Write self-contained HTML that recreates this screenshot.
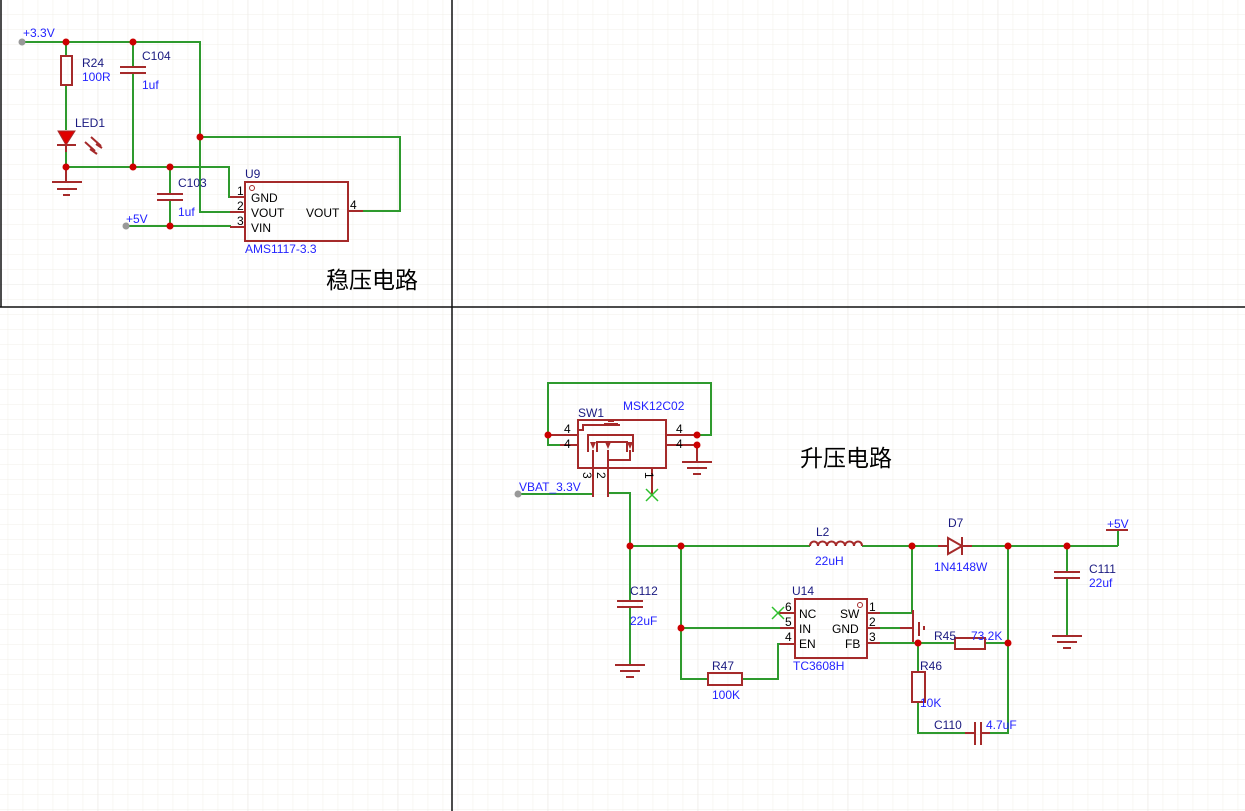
<!DOCTYPE html>
<html><head><meta charset="utf-8"><style>
html,body{margin:0;padding:0;background:#fff}
svg{display:block}
text{font-family:"Liberation Sans","Noto Sans CJK SC",sans-serif;font-size:12px}
.w{stroke:#2e9a2e;stroke-width:2;fill:none}
.c{stroke:#a52a2a;stroke-width:2;fill:none}
.d{fill:#cc0000}
.n{fill:#1a1a80}
.v{fill:#2323ff}
.p{fill:#000}
</style></head><body>
<svg width="1245" height="811" viewBox="0 0 1245 811" xmlns="http://www.w3.org/2000/svg">
<defs>
<pattern id="g" width="15" height="15" patternUnits="userSpaceOnUse" x="7.7" y="14">
<path d="M0 0V15M0 0H15" stroke="#f1efe8" stroke-width="1" fill="none"/>
</pattern>
<pattern id="G" width="150" height="150" patternUnits="userSpaceOnUse" x="97.7" y="134">
<path d="M0 0V150M0 0H150" stroke="#e9e8e4" stroke-width="1" fill="none"/>
</pattern>
</defs>
<rect width="1245" height="811" fill="url(#g)"/>
<rect width="1245" height="811" fill="url(#G)"/>
<!-- frames -->
<g stroke="#111" stroke-width="1.5" fill="none">
<line x1="1" y1="0" x2="1" y2="307"/>
<line x1="0" y1="307" x2="1245" y2="307"/>
<line x1="452" y1="0" x2="452" y2="811"/>
</g>

<!-- ===== Top-left regulator ===== -->
<g class="w">
<path d="M22 42H200V212H231"/>
<path d="M66 42V56"/><path d="M66 85V130"/>
<path d="M133 42V67"/><path d="M133 73V167"/>
<path d="M66 145V167H229V197H231"/>
<path d="M170 167V194"/><path d="M170 200V226"/>
<path d="M126 226H231"/>
<path d="M200 137H400V211H363"/>
</g>
<g class="c">
<rect x="61" y="56" width="11" height="29"/>
<path d="M66 145V152"/>
<path d="M120 67H146M120 73H146"/>
<path d="M157 194H183M157 200H183"/>
<path d="M52 182H82M57 189H77M63 195H70"/>
<path d="M66 167V182"/>
<rect x="245" y="182" width="103" height="59"/>
<path d="M230 197H245M230 212H245M230 227H245M348 211H363"/>
<path d="M85 142L95 151M90 149L97 154"/>
<path d="M91 137L101 146M96 144L102 148"/>
</g>
<polygon points="58,131 75,131 66,145" fill="#e00000" stroke="#a52a2a"/>
<path d="M57 145H76" stroke="#a52a2a" stroke-width="2"/>
<circle cx="252" cy="188" r="2.5" fill="none" stroke="#a52a2a"/>
<g class="d">
<circle cx="66" cy="42" r="3.5"/><circle cx="133" cy="42" r="3.5"/>
<circle cx="200" cy="137" r="3.5"/><circle cx="66" cy="167" r="3.5"/>
<circle cx="133" cy="167" r="3.5"/><circle cx="170" cy="167" r="3.5"/>
<circle cx="170" cy="226" r="3.5"/>
</g>
<circle cx="22" cy="42" r="3.5" fill="#999"/>
<circle cx="126" cy="226" r="3.5" fill="#999"/>
<text x="23" y="37" class="v">+3.3V</text>
<text x="82" y="67" class="n">R24</text>
<text x="82" y="81" class="v">100R</text>
<text x="142" y="60" class="n">C104</text>
<text x="142" y="89" class="v">1uf</text>
<text x="75" y="127" class="n">LED1</text>
<text x="178" y="187" class="n">C103</text>
<text x="178" y="216" class="v">1uf</text>
<text x="126" y="223" class="v">+5V</text>
<text x="245" y="178" class="n">U9</text>
<text x="237" y="195" class="p">1</text><text x="237" y="210" class="p">2</text><text x="237" y="225" class="p">3</text>
<text x="350" y="209" class="p">4</text>
<text x="251" y="202" class="p">GND</text>
<text x="251" y="217" class="p">VOUT</text>
<text x="251" y="232" class="p">VIN</text>
<text x="306" y="217" class="p">VOUT</text>
<text x="245" y="253" class="v">AMS1117-3.3</text>
<text x="326" y="288" style="font-size:23px" fill="#000">稳压电路</text>

<!-- ===== Bottom-right boost ===== -->
<g class="w">
<path d="M548 435V383H711V435H697"/>
<path d="M548 435V445H560"/>
<path d="M518 494H593"/>
<path d="M607 493H630V546"/>
<path d="M630 546H810"/><path d="M862 546H948"/><path d="M962 546H1118"/>
<path d="M630 546V601"/><path d="M630 607V665"/>
<path d="M1067 546V572"/><path d="M1067 578V636"/>
<path d="M1118 530V546"/>
<path d="M681 546V679H708"/><path d="M742 679H778V644H780"/>
<path d="M681 628H780"/>
<path d="M880 613H912V546"/>
<path d="M880 628H900"/>
<path d="M880 643H955"/><path d="M985 643H1008"/>
<path d="M1008 546V733H981"/>
<path d="M918 643V672"/><path d="M918 702V733H975"/>
</g>
<g class="c">
<rect x="578" y="420" width="88" height="48"/>
<path d="M548 435H578M560 445H578M666 435H697M666 445H697"/>
<path d="M578 430H583V425H620"/>
<path d="M604 424H618M608 421H614"/>
<path d="M588 452V435H633V452"/>
<path d="M597 452V442H627V452"/>
<path d="M593 450V497M608 450V497M630 450V460H608"/>
<path d="M652 468V495"/>
<path d="M697 445V462M682 462H712M687 468H707M693 474H701"/>
<path d="M810 546C810 540 818 540 818 546C818 540 827 540 827 546C827 540 836 540 836 546C836 540 845 540 845 546C845 540 854 540 854 546C854 540 862 540 862 546"/>
<path d="M938 546H948M962 546H972"/>
<path d="M962 537V555"/>
<path d="M1106 530H1128"/>
<path d="M1054 572H1080M1054 578H1080"/>
<path d="M1052 636H1082M1057 642H1077M1063 648H1071"/>
<path d="M617 601H643M617 607H643"/>
<path d="M615 665H645M620 671H640M626 677H634"/>
<rect x="708" y="673" width="34" height="12"/>
<rect x="795" y="599" width="72" height="59"/>
<path d="M778 613H795M780 628H795M780 644H795M867 613H880M867 628H880M867 643H880"/>
<path d="M900 628H913M913 610V642M919 622V636M924 626V630"/>
<rect x="955" y="638" width="30" height="11"/>
<rect x="912" y="672" width="13" height="30"/>
<path d="M975 722V745M981 722V745M965 733H975M981 733H990"/>
</g>
<polygon points="948,538 948,554 962,546" fill="none" stroke="#a52a2a" stroke-width="2"/>
<polygon points="593,449 590,442 596,442" fill="#a52a2a"/>
<polygon points="608,449 605,442 611,442" fill="#a52a2a"/>
<polygon points="630,449 627,442 633,442" fill="#a52a2a"/>
<circle cx="860" cy="605" r="2.5" fill="none" stroke="#a52a2a"/>
<g stroke="#2ec02e" stroke-width="1.5">
<path d="M646 489L658 501M658 489L646 501"/>
<path d="M772 607L784 619M784 607L772 619"/>
</g>
<g class="d">
<circle cx="548" cy="435" r="3.5"/><circle cx="697" cy="435" r="3.5"/><circle cx="697" cy="445" r="3.5"/>
<circle cx="630" cy="546" r="3.5"/><circle cx="681" cy="546" r="3.5"/><circle cx="912" cy="546" r="3.5"/>
<circle cx="1008" cy="546" r="3.5"/><circle cx="1067" cy="546" r="3.5"/><circle cx="681" cy="628" r="3.5"/>
<circle cx="918" cy="643" r="3.5"/><circle cx="1008" cy="643" r="3.5"/>
</g>
<circle cx="518" cy="494" r="3.5" fill="#999"/>
<text x="578" y="417" class="n">SW1</text>
<text x="623" y="410" class="v">MSK12C02</text>
<text x="564" y="433" class="p">4</text><text x="564" y="448" class="p">4</text>
<text x="676" y="433" class="p">4</text><text x="676" y="448" class="p">4</text>
<text x="583" y="472" class="p" transform="rotate(90 583 472)">3</text>
<text x="597" y="472" class="p" transform="rotate(90 597 472)">2</text>
<text x="645" y="472" class="p" transform="rotate(90 645 472)">1</text>
<text x="519" y="491" class="v">VBAT_3.3V</text>
<text x="800" y="466" style="font-size:23px" fill="#000">升压电路</text>
<text x="816" y="536" class="n">L2</text>
<text x="815" y="565" class="v">22uH</text>
<text x="948" y="527" class="n">D7</text>
<text x="934" y="571" class="v">1N4148W</text>
<text x="1107" y="528" class="v">+5V</text>
<text x="1089" y="573" class="n">C111</text>
<text x="1089" y="587" class="v">22uf</text>
<text x="630" y="595" class="n">C112</text>
<text x="630" y="625" class="v">22uF</text>
<text x="792" y="595" class="n">U14</text>
<text x="785" y="611" class="p">6</text><text x="785" y="626" class="p">5</text><text x="785" y="641" class="p">4</text>
<text x="869" y="611" class="p">1</text><text x="869" y="626" class="p">2</text><text x="869" y="641" class="p">3</text>
<text x="799" y="618" class="p">NC</text><text x="799" y="633" class="p">IN</text><text x="799" y="648" class="p">EN</text>
<text x="840" y="618" class="p">SW</text><text x="832" y="633" class="p">GND</text><text x="845" y="648" class="p">FB</text>
<text x="793" y="670" class="v">TC3608H</text>
<text x="712" y="670" class="n">R47</text>
<text x="712" y="699" class="v">100K</text>
<text x="934" y="640" class="n">R45</text>
<text x="971" y="640" class="v">73.2K</text>
<text x="920" y="670" class="n">R46</text>
<text x="920" y="707" class="v">10K</text>
<text x="934" y="729" class="n">C110</text>
<text x="986" y="729" class="v">4.7uF</text>
</svg>
</body></html>
